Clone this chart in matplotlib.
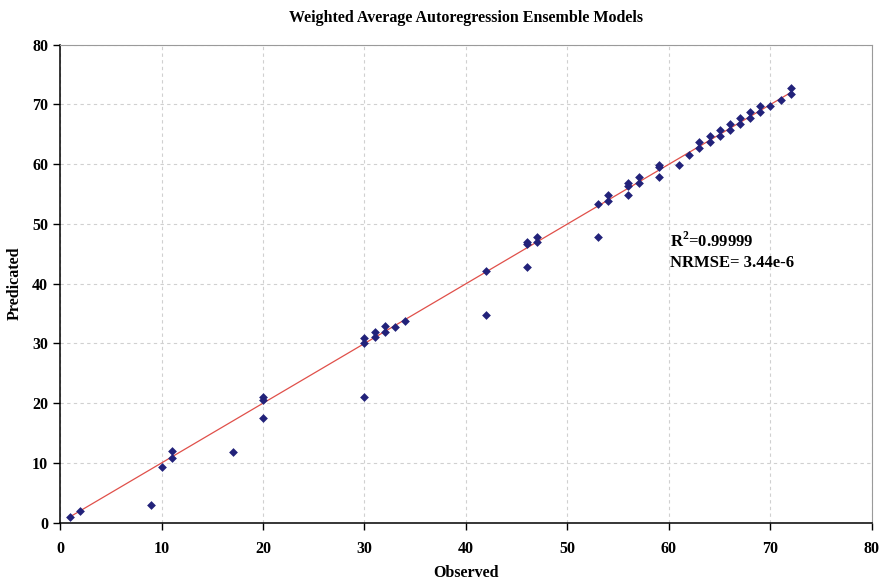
import numpy as np
import matplotlib
matplotlib.use('Agg')
import matplotlib.pyplot as plt

# Observed vs predicted values
observed = [1, 2, 9, 10, 11, 11, 17, 20, 20, 20,
            30, 30, 30, 31, 31, 32, 32, 33, 34,
            42, 42, 46, 46, 46, 47, 47, 53, 53, 54, 54,
            56, 56, 56, 57, 57, 59, 59, 59, 61, 62,
            63, 63, 64, 64, 65, 65, 66, 66, 67, 67,
            68, 68, 69, 69, 70, 71, 72, 72]
predicted = [1.0, 1.9, 2.9, 9.4, 10.9, 12.0, 11.9, 21.0, 20.6, 17.5,
             30.9, 30.0, 21.0, 32.0, 31.0, 32.9, 32.0, 32.8, 33.8,
             42.2, 34.8, 46.9, 46.6, 42.8, 47.9, 46.9, 53.3, 47.9, 54.8, 53.9,
             56.8, 56.3, 54.8, 57.8, 56.9, 59.9, 59.6, 57.9, 59.9, 61.5,
             63.8, 62.7, 64.8, 63.8, 65.8, 64.8, 66.8, 65.8, 67.8, 66.8,
             68.7, 67.8, 69.7, 68.7, 69.7, 70.7, 72.7, 71.7]
r2_text = 'R$^2$=0.99999'
nrmse_text = 'NRMSE= 3.44e-6'

plt.rcParams['font.family'] = ['Liberation Serif', 'DejaVu Serif']
plt.rcParams['font.weight'] = 'bold'
plt.rcParams['mathtext.fontset'] = 'custom'
plt.rcParams['mathtext.rm'] = 'Liberation Serif:bold'

fig = plt.figure(figsize=(8.85, 5.86), dpi=100)
ax = fig.add_axes([0.0678, 0.108, 0.9175, 0.8157])

# identity trend line over the observed range
line_x = np.array([min(observed), max(observed)])
ax.plot(line_x, line_x, color='#e0504a', lw=0.9, zorder=2)

ax.scatter(observed, predicted, marker='D', s=20, color='#22227a', zorder=3, linewidths=0)

ax.set_xlim(0, 80)
ax.set_ylim(0, 80)
ax.set_xticks(range(0, 81, 10))
ax.set_yticks(range(0, 81, 10))
ax.grid(True, linestyle=(0, (3, 3)), color='#d0d0d0', lw=0.8)
ax.set_axisbelow(True)

for side in ['top', 'right']:
    ax.spines[side].set_color('#9a9a9a')
    ax.spines[side].set_linewidth(0.8)
for side in ['left', 'bottom']:
    ax.spines[side].set_color('black')
    ax.spines[side].set_linewidth(1.1)

ax.tick_params(axis='both', direction='out', length=5, width=1, labelsize=11.5)
ax.tick_params(axis='x', pad=8)
for lbl in ax.get_xticklabels() + ax.get_yticklabels():
    lbl.set_fontweight('bold')

ax.set_xlabel('Observed', fontsize=11.5, fontweight='bold', labelpad=6)
ax.set_ylabel('Predicated', fontsize=11.5, fontweight='bold', labelpad=7)
ax.set_title('Weighted Average Autoregression Ensemble Models', fontsize=11.5,
             fontweight='bold', pad=16)

ax.text(60.1, 47.1, r2_text, fontsize=12, fontweight='bold', va='center')
ax.text(60.1, 43.4, nrmse_text, fontsize=12, fontweight='bold', va='center')

fig.savefig('out.png', dpi=100)
